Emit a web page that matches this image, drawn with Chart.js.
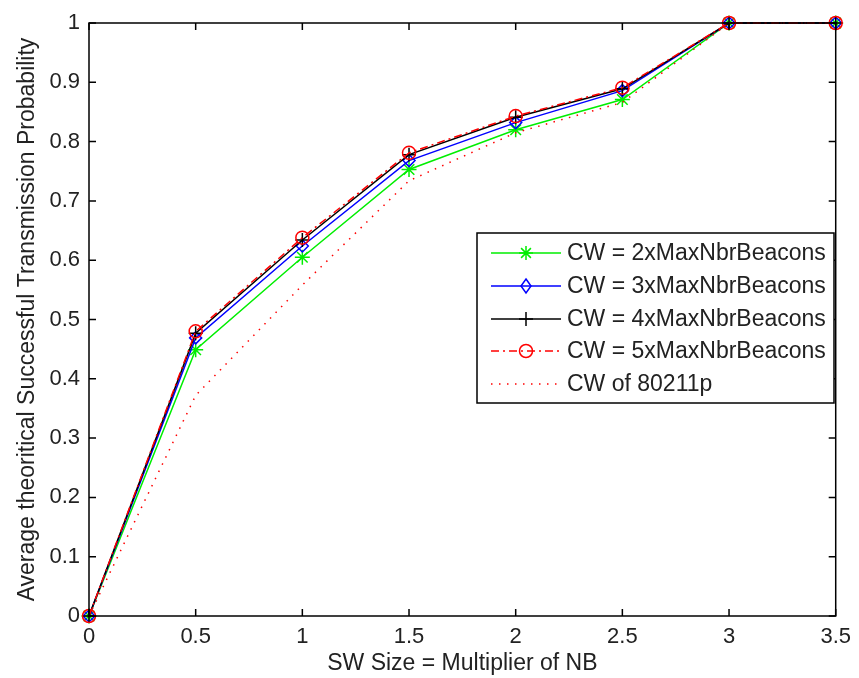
<!DOCTYPE html>
<html>
<head>
<meta charset="utf-8">
<script src="https://cdn.jsdelivr.net/npm/chart.js@4.4.1/dist/chart.umd.min.js"></script>
<style>
  html, body { margin: 0; padding: 0; background: #fff; }
  #wrap { width: 859px; height: 678px; }
</style>
</head>
<body>
<div id="wrap"><canvas id="chart" width="859" height="678"></canvas></div>
<script>
// data
const xValues = [0, 0.5, 1, 1.5, 2, 2.5, 3, 3.5];
const cw2 = [0, 0.449, 0.605, 0.753, 0.820, 0.871, 1, 1];
const cw3 = [0, 0.469, 0.624, 0.768, 0.832, 0.886, 1, 1];
const cw4 = [0, 0.477, 0.634, 0.778, 0.841, 0.889, 1, 1];
const cw5 = [0, 0.480, 0.638, 0.781, 0.843, 0.891, 1, 1];
const cw80211p = [0, 0.372, 0.558, 0.734, 0.815, 0.866, 1, 1];

const seriesLabels = [
    'CW = 2xMaxNbrBeacons',
    'CW = 3xMaxNbrBeacons',
    'CW = 4xMaxNbrBeacons',
    'CW = 5xMaxNbrBeacons',
    'CW of 80211p'
];

const xTicks = [0, 0.5, 1, 1.5, 2, 2.5, 3, 3.5];
const yTicks = [0, 0.1, 0.2, 0.3, 0.4, 0.5, 0.6, 0.7, 0.8, 0.9, 1];

const xTitle = 'SW Size = Multiplier of NB';
const yTitle = 'Average theoritical Successful Transmission Probability';

const FONT = 'Arial, "Liberation Sans", sans-serif';

const toPoints = (ys) => ys.map((y, i) => ({ x: xValues[i], y: y }));

// legend marker shapes, drawn by hand
function drawMarker(ctx, kind, x, y, color) {
    ctx.save();
    ctx.strokeStyle = color;
    ctx.lineWidth = 1.5;
    ctx.setLineDash([]);
    ctx.beginPath();
    if (kind === 'star') {
        const r = 7;
        ctx.moveTo(x - r, y); ctx.lineTo(x + r, y);
        ctx.moveTo(x, y - r); ctx.lineTo(x, y + r);
        const d = r * 0.7;
        ctx.moveTo(x - d, y - d); ctx.lineTo(x + d, y + d);
        ctx.moveTo(x - d, y + d); ctx.lineTo(x + d, y - d);
    } else if (kind === 'diamond') {
        ctx.moveTo(x, y - 7); ctx.lineTo(x + 5, y);
        ctx.lineTo(x, y + 7); ctx.lineTo(x - 5, y); ctx.closePath();
    } else if (kind === 'cross') {
        ctx.moveTo(x - 7, y); ctx.lineTo(x + 7, y);
        ctx.moveTo(x, y - 7); ctx.lineTo(x, y + 7);
    } else if (kind === 'circle') {
        ctx.arc(x, y, 6.5, 0, Math.PI * 2);
    }
    ctx.stroke();
    ctx.restore();
}

// box, inward ticks on all four sides, and the in-plot legend
const matlabFrame = {
    id: 'matlabFrame',
    afterDraw(chart) {
        const { ctx, chartArea: a, scales } = chart;
        const tl = 7;
        ctx.save();
        ctx.strokeStyle = '#000';
        ctx.lineWidth = 1.5;
        ctx.setLineDash([]);
        ctx.strokeRect(a.left, a.top, a.right - a.left, a.bottom - a.top);
        ctx.beginPath();
        xTicks.forEach(v => {
            const px = scales.x.getPixelForValue(v);
            ctx.moveTo(px, a.bottom); ctx.lineTo(px, a.bottom - tl);
            ctx.moveTo(px, a.top); ctx.lineTo(px, a.top + tl);
        });
        yTicks.forEach(v => {
            const py = scales.y.getPixelForValue(v);
            ctx.moveTo(a.left, py); ctx.lineTo(a.left + tl, py);
            ctx.moveTo(a.right, py); ctx.lineTo(a.right - tl, py);
        });
        ctx.stroke();

        // legend
        const box = { x: 477, y: 233, w: 357, h: 170 };
        ctx.fillStyle = '#fff';
        ctx.fillRect(box.x, box.y, box.w, box.h);
        ctx.strokeStyle = '#000';
        ctx.lineWidth = 1.5;
        ctx.strokeRect(box.x, box.y, box.w, box.h);

        const rowY = [253, 286, 319, 351, 384];
        const markers = ['star', 'diamond', 'cross', 'circle', null];
        ctx.font = '23px ' + FONT;
        ctx.textBaseline = 'middle';
        ctx.textAlign = 'left';
        chart.data.datasets.forEach((ds, i) => {
            const y = rowY[i];
            ctx.save();
            ctx.strokeStyle = ds.borderColor;
            ctx.lineWidth = ds.borderWidth;
            ctx.setLineDash(ds.borderDash || []);
            ctx.beginPath();
            ctx.moveTo(491, y); ctx.lineTo(561, y);
            ctx.stroke();
            ctx.restore();
            if (markers[i]) drawMarker(ctx, markers[i], 526, y, ds.borderColor);
            ctx.fillStyle = '#222';
            ctx.fillText(seriesLabels[i], 567, y + 1);
        });
        ctx.restore();
    }
};

const tickLabel = (v) => String(+(+v).toFixed(2));

new Chart(document.getElementById('chart'), {
    type: 'line',
    data: {
        datasets: [
            {
                label: seriesLabels[0], data: toPoints(cw2),
                borderColor: '#00ee00', borderWidth: 1.5,
                pointStyle: 'star', pointRadius: 7.5, pointBorderWidth: 1.5,
                pointBorderColor: '#00ee00', pointBackgroundColor: 'transparent',
                order: 5, clip: false
            },
            {
                label: seriesLabels[1], data: toPoints(cw3),
                borderColor: '#0000ff', borderWidth: 1.5,
                pointStyle: 'rectRot', pointRadius: 6, pointBorderWidth: 1.5,
                pointBorderColor: '#0000ff', pointBackgroundColor: 'transparent',
                order: 4, clip: false
            },
            {
                label: seriesLabels[2], data: toPoints(cw4),
                borderColor: '#000000', borderWidth: 1.5,
                pointStyle: 'cross', pointRadius: 7, pointBorderWidth: 1.5,
                pointBorderColor: '#000000', pointBackgroundColor: 'transparent',
                order: 3, clip: false
            },
            {
                label: seriesLabels[3], data: toPoints(cw5),
                borderColor: '#ff0000', borderWidth: 1.5, borderDash: [8, 4, 2, 4],
                pointStyle: 'circle', pointRadius: 6.5, pointBorderWidth: 1.5,
                pointBorderColor: '#ff0000', pointBackgroundColor: 'transparent',
                order: 2, clip: false
            },
            {
                label: seriesLabels[4], data: toPoints(cw80211p),
                borderColor: '#ff0000', borderWidth: 1.5, borderDash: [1.5, 6.5],
                pointRadius: 0,
                order: 1, clip: false
            }
        ]
    },
    options: {
        responsive: false,
        animation: false,
        events: [],
        layout: { padding: { left: 0, right: 16, top: 23, bottom: 0 } },
        plugins: {
            legend: { display: false },
            tooltip: { enabled: false }
        },
        elements: { line: { tension: 0 } },
        scales: {
            x: {
                type: 'linear',
                min: 0, max: 3.5,
                afterBuildTicks: (s) => { s.ticks = xTicks.map(v => ({ value: v })); },
                afterFit: (s) => { s.height = 62; },
                grid: { display: false, drawTicks: false },
                border: { display: false },
                ticks: {
                    padding: 8, color: '#222', maxRotation: 0,
                    font: { family: FONT, size: 22 },
                    callback: tickLabel
                },
                title: {
                    display: true, text: xTitle, color: '#222',
                    font: { family: FONT, size: 23 },
                    padding: { top: 0, bottom: 1 }
                }
            },
            y: {
                type: 'linear',
                min: 0, max: 1,
                afterBuildTicks: (s) => { s.ticks = yTicks.map(v => ({ value: v })); },
                afterFit: (s) => { s.width = 89; },
                grid: { display: false, drawTicks: false },
                border: { display: false },
                ticks: {
                    padding: 9, color: '#222',
                    font: { family: FONT, size: 22 },
                    callback: tickLabel
                },
                title: {
                    display: true, text: yTitle, color: '#222',
                    font: { family: FONT, size: 23 },
                    padding: { top: 14, bottom: 0 }
                }
            }
        }
    },
    plugins: [matlabFrame]
});
</script>
</body>
</html>
